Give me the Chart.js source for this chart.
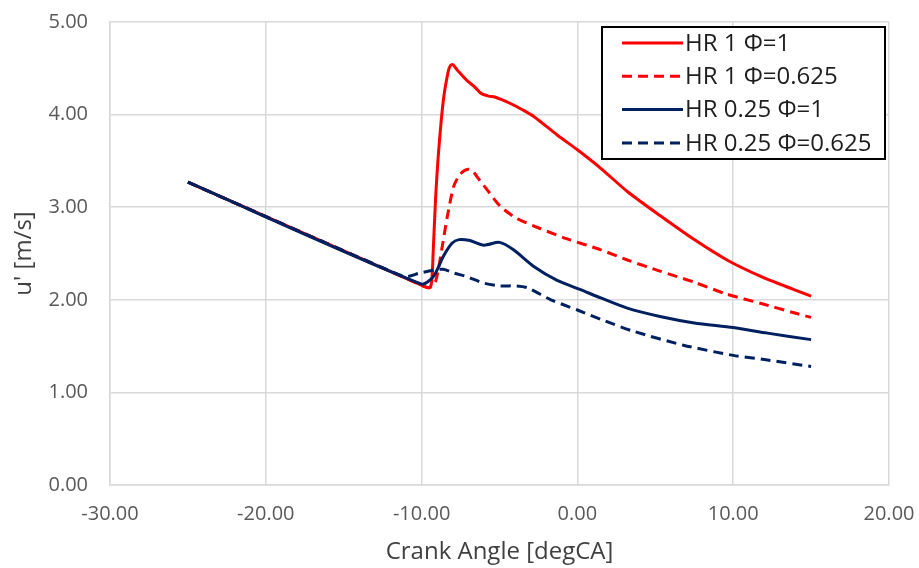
<!DOCTYPE html>
<html>
<head>
<meta charset="utf-8">
<script src="https://cdn.jsdelivr.net/npm/chart.js@4.4.1/dist/chart.umd.min.js"></script>
<style>
  html, body { margin: 0; padding: 0; background: #fff; }
  canvas { display: block; }
</style>
</head>
<body>
<canvas id="lineChart" width="919" height="568"></canvas>
<script>
// crank angle [degCA] and turbulence intensity u' [m/s] per case
var angleHR1Phi1 = [-25, -10.3, -9.5, -9.35, -9.25, -9.1, -8.9, -8.6, -8.3, -8.15, -8.0, -7.8, -7.6, -7.1, -6.6, -6.2, -5.7, -5.3, -4.3, -3.5, -2.8, -1.3, 0, 1.5, 3.2, 5.3, 7.5, 9.6, 11.8, 13.9, 15];
var uHR1Phi1 = [3.27, 2.18, 2.13, 2.2, 2.54, 3.1, 3.62, 4.16, 4.46, 4.53, 4.54, 4.5, 4.46, 4.37, 4.3, 4.23, 4.2, 4.19, 4.12, 4.05, 3.98, 3.78, 3.62, 3.42, 3.17, 2.91, 2.65, 2.43, 2.25, 2.11, 2.04];

var angleHR1Phi0625 = [-25, -10.3, -9.5, -9.1, -8.7, -8.37, -7.95, -7.6, -7.3, -7.0, -6.7, -6.45, -5.8, -4.95, -3.9, -2.4, -0.7, 1.5, 3.2, 5.3, 7.5, 9.6, 11.8, 13.9, 15];
var uHR1Phi0625 = [3.27, 2.18, 2.13, 2.2, 2.55, 2.88, 3.22, 3.34, 3.39, 3.41, 3.39, 3.33, 3.19, 3.01, 2.88, 2.77, 2.66, 2.54, 2.43, 2.31, 2.19, 2.06, 1.96, 1.86, 1.81];

var angleHR025Phi1 = [-25, -10.0, -9.25, -8.6, -8.05, -7.6, -6.9, -6.0, -5.0, -4.1, -2.8, -1.3, 0.2, 1.5, 3.2, 5.3, 7.5, 10, 12.2, 15];
var uHR025Phi1 = [3.27, 2.17, 2.25, 2.47, 2.61, 2.65, 2.64, 2.59, 2.62, 2.54, 2.36, 2.21, 2.11, 2.02, 1.91, 1.82, 1.75, 1.70, 1.64, 1.57];

var angleHR025Phi0625 = [-25, -12, -11, -10.1, -9.2, -8.6, -7.95, -7.1, -6.0, -5.0, -3.9, -3.2, -1.7, 0, 1.8, 3.6, 6.8, 10.0, 12.2, 15];
var uHR025Phi0625 = [3.27, 2.31, 2.25, 2.29, 2.32, 2.33, 2.29, 2.25, 2.18, 2.15, 2.15, 2.13, 2.0, 1.89, 1.77, 1.66, 1.51, 1.40, 1.35, 1.28];

var seriesLabels = ['HR 1 \u03A6=1', 'HR 1 \u03A6=0.625', 'HR 0.25 \u03A6=1', 'HR 0.25 \u03A6=0.625'];
var xTicks = [-30, -20, -10, 0, 10, 20];
var yTicks = [0, 1, 2, 3, 4, 5];

var RED = '#ff0000';
var NAVY = '#002060';
var DASH = [10, 6];
var FONT = '"Open Sans", "DejaVu Sans", sans-serif';

function toPoints(xs, ys) {
	return xs.map(function (x, i) { return { x: x, y: ys[i] }; });
}

// boxed legend in the upper right, drawn by hand
var boxLegend = {
	id: 'boxLegend',
	afterDraw: function (chart) {
		var ctx = chart.ctx;
		var left = 602, top = 27, w = 283, h = 132;
		ctx.save();
		ctx.fillStyle = '#fff';
		ctx.fillRect(left, top, w, h);
		ctx.lineWidth = 2;
		ctx.strokeStyle = '#000';
		ctx.strokeRect(left, top, w, h);
		chart.data.datasets.forEach(function (ds, i) {
			var y = 43 + i * 33.3;
			ctx.beginPath();
			ctx.setLineDash(ds.borderDash || []);
			ctx.lineWidth = 3;
			ctx.strokeStyle = ds.borderColor;
			ctx.moveTo(622, y);
			ctx.lineTo(683, y);
			ctx.stroke();
			ctx.setLineDash([]);
			ctx.fillStyle = '#1e1e1e';
			ctx.font = '24px ' + FONT;
			ctx.textBaseline = 'middle';
			ctx.textAlign = 'left';
			ctx.fillText(ds.label, 685, y + 1);
		});
		ctx.restore();
	}
};

var ctx = document.getElementById('lineChart').getContext('2d');
var chart = new Chart(ctx, {
	type: 'line',
	data: {
		datasets: [
			{ label: seriesLabels[0], data: toPoints(angleHR1Phi1, uHR1Phi1), borderColor: RED, order: 4 },
			{ label: seriesLabels[1], data: toPoints(angleHR1Phi0625, uHR1Phi0625), borderColor: RED, borderDash: DASH, order: 3 },
			{ label: seriesLabels[2], data: toPoints(angleHR025Phi1, uHR025Phi1), borderColor: NAVY, order: 1 },
			{ label: seriesLabels[3], data: toPoints(angleHR025Phi0625, uHR025Phi0625), borderColor: NAVY, borderDash: DASH, order: 2 }
		]
	},
	options: {
		responsive: false,
		animation: false,
		layout: { padding: { left: 0, right: 30, top: 22, bottom: 0 } },
		elements: {
			point: { radius: 0 },
			line: { borderWidth: 3, tension: 0.25, borderJoinStyle: 'round', fill: false }
		},
		plugins: {
			legend: { display: false },
			tooltip: { enabled: false }
		},
		scales: {
			x: {
				type: 'linear',
				min: xTicks[0],
				max: xTicks[xTicks.length - 1],
				afterBuildTicks: function (scale) {
					scale.ticks = xTicks.map(function (v) { return { value: v }; });
				},
				ticks: {
					callback: function (v) { return v.toFixed(2); },
					font: { family: FONT, size: 20 },
					color: '#595959',
					padding: 17,
					maxRotation: 0
				},
				grid: { color: '#d9d9d9', lineWidth: 1.5, drawTicks: false },
				border: { color: '#d9d9d9', width: 1.5 },
				title: {
					display: true,
					text: 'Crank Angle [degCA]',
					font: { family: FONT, size: 24 },
					color: '#404040',
					padding: { top: 0, bottom: 1 }
				},
				afterFit: function (scale) {
					scale.height = 83;
					scale.paddingLeft = 0;
					scale.paddingRight = 0;
				}
			},
			y: {
				type: 'linear',
				min: yTicks[0],
				max: yTicks[yTicks.length - 1],
				afterBuildTicks: function (scale) {
					scale.ticks = yTicks.map(function (v) { return { value: v }; });
				},
				ticks: {
					callback: function (v) { return v.toFixed(2); },
					font: { family: FONT, size: 20 },
					color: '#595959',
					padding: 22
				},
				grid: { color: '#d9d9d9', lineWidth: 1.5, drawTicks: false },
				border: { color: '#d9d9d9', width: 1.5 },
				title: {
					display: true,
					text: "u' [m/s]",
					font: { family: FONT, size: 24 },
					color: '#404040',
					padding: { top: 10, bottom: 0 }
				},
				afterFit: function (scale) {
					scale.width = 110;
					scale.paddingTop = 0;
					scale.paddingBottom = 0;
				}
			}
		}
	},
	plugins: [boxLegend]
});
</script>
</body>
</html>
